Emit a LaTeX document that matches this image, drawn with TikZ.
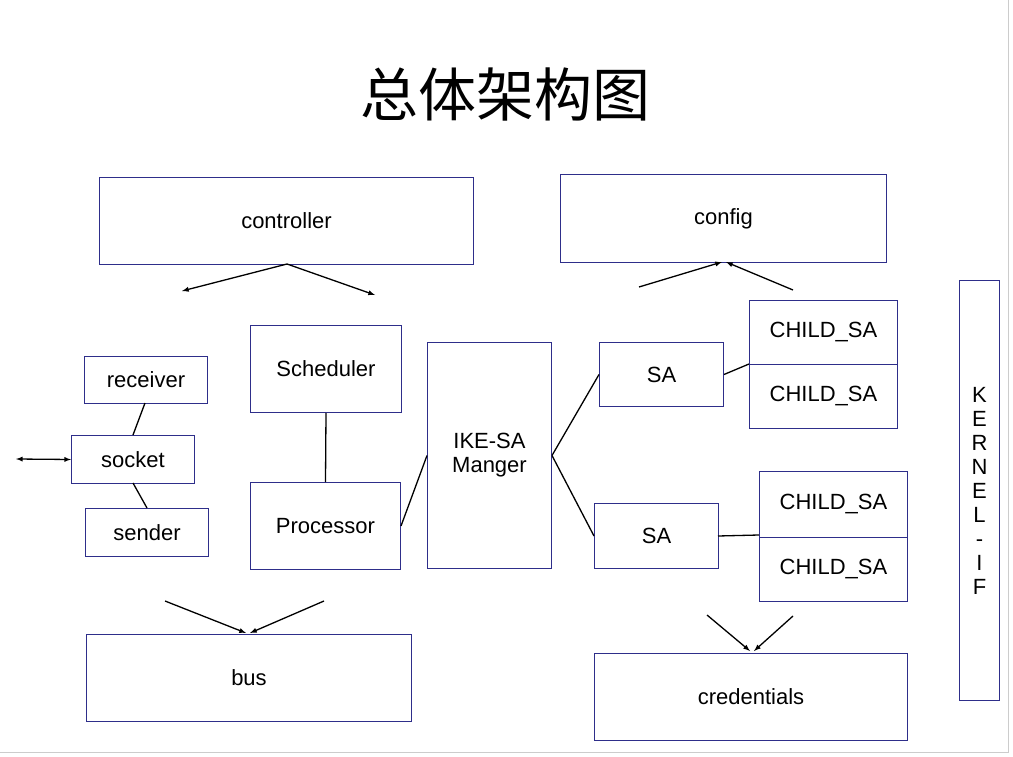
\documentclass[tikz,border=0pt]{standalone}
\usepackage{fontspec}
\setmainfont{Liberation Sans}
\newfontfamily\cjk{Noto Sans CJK SC}
\definecolor{bx}{HTML}{2E2E8A}
\begin{document}
\begin{tikzpicture}[x=1pt,y=-1pt,
  box/.style={draw=bx,line width=1pt,anchor=north west,inner sep=0pt,font=\fontsize{22}{24}\selectfont,align=center},
  arr/.style={-latex,line width=1.3pt},
  ln/.style={line width=1.3pt}]
\useasboundingbox (0,0) rectangle (1013,757);
\draw[gray!40] (1008,0) -- (1008,752) -- (0,752);
\node (title) at (505,94) {\cjk\fontsize{58}{60}\selectfont 总体架构图};
\newcommand\bxx[6]{\node[box,minimum width=#4-#2,minimum height=#5-#3] (#1) at (#2,#3) {#6};}
\bxx{controller}{99}{177}{473}{264}{controller}
\bxx{config}{560}{174}{886}{262}{config}
\bxx{receiver}{84}{356}{207}{403}{receiver}
\bxx{socket}{71}{435}{194}{483}{socket}
\bxx{sender}{85}{508}{208}{556}{sender}
\bxx{sched}{250}{325}{401}{412}{Scheduler}
\bxx{proc}{250}{482}{400}{569}{Processor}
\bxx{ike}{427}{342}{551}{568}{IKE-SA\\Manger}
\bxx{sa1}{599}{342}{723}{406}{SA}
\bxx{sa2}{594}{503}{718}{568}{SA}
\bxx{c1}{749}{300}{897}{364}{CHILD\_SA}
\bxx{c2}{749}{364}{897}{428}{CHILD\_SA}
\bxx{c3}{759}{471}{907}{537}{CHILD\_SA}
\bxx{c4}{759}{537}{907}{601}{CHILD\_SA}
\bxx{kernel}{959}{280}{999}{700}{K\\E\\R\\N\\E\\L\\-\\I\\F}
\bxx{bus}{86}{634}{411}{721}{bus}
\bxx{cred}{594}{653}{907}{740}{credentials}
\coordinate (a1) at (182,291); \coordinate (a2) at (375,295);
\draw[arr] (287,264) -- (a1); \draw[arr] (287,264) -- (a2);
\coordinate (b1) at (639,287); \coordinate (b2) at (793,290);
\draw[arr] (b1) -- (722,262); \draw[arr] (b2) -- (726,262);
\coordinate (d1) at (165,601); \coordinate (d2) at (324,601);
\draw[arr] (d1) -- (246,633); \draw[arr] (d2) -- (250,633);
\coordinate (e1) at (707,615); \coordinate (e2) at (793,616);
\draw[arr] (e1) -- (750,651); \draw[arr] (e2) -- (754,651);
\coordinate (s0) at (16,459);
\draw[latex-latex,line width=1.3pt] (s0) -- (socket.west);
\draw[ln] (145,403) -- (133,435);
\draw[ln] (133,483) -- (147,508);
\draw[ln] (sched.south) -- (proc.north);
\draw[ln] (proc.east) -- (ike.west);
\draw[ln] (ike.east) -- (sa1.west);
\draw[ln] (ike.east) -- (sa2.west);
\draw[ln] (sa1.east) -- (749,364);
\draw[ln] (718,536) -- (759,535);
\end{tikzpicture}
\end{document}
